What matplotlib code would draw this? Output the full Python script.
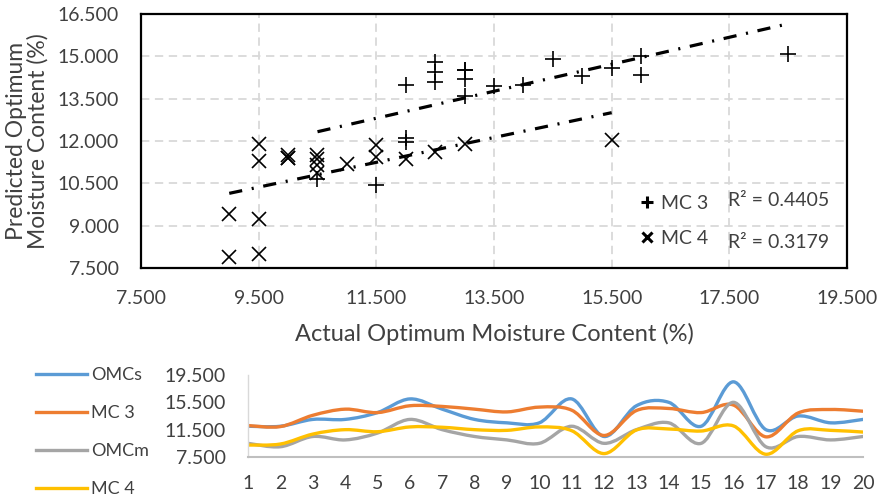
import numpy as np
import matplotlib
matplotlib.use("Agg")
import matplotlib.pyplot as plt
from matplotlib.path import Path
from matplotlib.patches import PathPatch
from matplotlib.lines import Line2D

plt.rcParams['font.family'] = ['Lato', 'DejaVu Sans']
plt.rcParams['lines.scale_dashes'] = False

# ---------------- data ----------------
samples = list(range(1, 21))
omcs = [12.0, 12.0, 13.0, 13.0, 14.0, 16.0, 14.5, 13.0, 12.5, 12.5,
        16.0, 10.5, 15.0, 15.5, 12.0, 18.5, 11.5, 13.5, 12.5, 13.0]
mc3 = [12.1, 11.95, 13.6, 14.5, 14.0, 15.0, 14.9, 14.5, 14.1, 14.8,
       14.35, 10.65, 14.3, 14.6, 14.0, 15.1, 10.45, 13.95, 14.45, 14.2]
omcm = [9.5, 9.0, 10.5, 10.0, 11.0, 13.0, 11.5, 10.5, 10.0, 9.5,
        12.0, 9.5, 11.5, 12.5, 9.5, 15.5, 9.0, 10.5, 10.0, 10.5]
mc4 = [9.25, 9.4, 10.85, 11.5, 11.2, 11.9, 11.85, 11.5, 11.4, 11.9,
       11.35, 8.0, 11.45, 11.6, 11.3, 12.05, 7.9, 11.35, 11.4, 11.15]
r2_mc3 = "R² = 0.4405"
r2_mc4 = "R² = 0.3179"
top_xticks = [7.5, 9.5, 11.5, 13.5, 15.5, 17.5, 19.5]
top_yticks = [7.5, 9.0, 10.5, 12.0, 13.5, 15.0, 16.5]
bot_yticks = [7.5, 11.5, 15.5, 19.5]

W, H = 882, 499
fig = plt.figure(figsize=(W / 100, H / 100), dpi=100)

def ax_rect(l, t, r, b):
    return [l / W, 1 - b / H, (r - l) / W, (b - t) / H]

FS = 14
TXT = '#404040'
# ---------------- top scatter ----------------
ax = fig.add_axes(ax_rect(141, 14, 847, 268))
ax.set_xlim(7.5, 19.5)
ax.set_ylim(7.5, 16.5)
ax.set_xticks(top_xticks)
ax.set_yticks(top_yticks)
ax.set_xticklabels([f"{v:.3f}" for v in top_xticks])
ax.set_yticklabels([f"{v:.3f}" for v in top_yticks])
ax.tick_params(length=0, labelsize=FS, colors=TXT)
ax.tick_params(axis='x', pad=16)
ax.tick_params(axis='y', pad=16)
ax.grid(True, color='#d9d9d9', linestyle=(0, (6, 4)), linewidth=1.3)
ax.set_axisbelow(True)
for s in ax.spines.values():
    s.set_color('black')
    s.set_linewidth(1.6)

ax.plot(omcs, mc3, linestyle='none', marker='+', markersize=11,
        markeredgewidth=1.2, color='black', zorder=3)
ax.plot(omcm, mc4, linestyle='none', marker='x', markersize=10,
        markeredgewidth=1.2, color='black', zorder=3)

for xs, ys in ((omcs, mc3), (omcm, mc4)):
    k, b = np.polyfit(xs, ys, 1)
    xl = np.array([min(xs), max(xs)])
    ln, = ax.plot(xl, k * xl + b, color='black', linewidth=2.3, zorder=4)
    ln.set_dashes([9.5, 7.0, 1.5, 7.0])

ax.set_xlabel("Actual Optimum Moisture Content (%)", fontsize=17,
              color=TXT, labelpad=11)
ax.set_ylabel("Predicted Optimum\nMoisture Content (%)", fontsize=16.5,
              color=TXT, labelpad=6, linespacing=1.05)

h3 = Line2D([], [], linestyle='none', marker='+', markersize=9,
            markeredgewidth=2.2, color='black')
h4 = Line2D([], [], linestyle='none', marker='x', markersize=7,
            markeredgewidth=2.2, color='black')
leg = ax.legend([h3, h4], ["MC 3", "MC 4"], loc='center left',
                bbox_to_anchor=((630 - 141) / 706, (268 - 221) / 254),
                frameon=False, fontsize=FS, handlelength=0.8,
                handletextpad=0.3, labelspacing=0.95, borderpad=0)
for t in leg.get_texts():
    t.set_color(TXT)
ax.text((728 - 141) / 706, (268 - 200) / 254, r2_mc3, transform=ax.transAxes,
        fontsize=FS, color=TXT, va='center', ha='left')
ax.text((728 - 141) / 706, (268 - 242) / 254, r2_mc4, transform=ax.transAxes,
        fontsize=FS, color=TXT, va='center', ha='left')

# ---------------- bottom line chart ----------------
bx = fig.add_axes(ax_rect(248, 375, 863, 457))
bx.set_xlim(1, 20)
bx.set_ylim(7.5, 19.5)
bx.set_xticks(samples)
bx.set_yticks(bot_yticks)
bx.set_yticklabels([f"{v:.3f}" for v in bot_yticks])
bx.tick_params(length=0, labelsize=FS, colors=TXT)
bx.tick_params(axis='x', pad=13)
bx.tick_params(axis='y', pad=16)
for side in ('top', 'right'):
    bx.spines[side].set_visible(False)
bx.spines['left'].set_color('#d9d9d9')
bx.spines['left'].set_linewidth(1.0)
bx.spines['bottom'].set_color('#bfbfbf')
bx.spines['bottom'].set_linewidth(1.5)


def smooth_path(xs, ys):
    pts = np.column_stack([xs, ys]).astype(float)
    n = len(pts)
    verts = [pts[0]]
    codes = [Path.MOVETO]
    for i in range(n - 1):
        p0 = pts[max(i - 1, 0)]
        p1 = pts[i]
        p2 = pts[i + 1]
        p3 = pts[min(i + 2, n - 1)]
        c1 = p1 + (p2 - p0) / 6.0
        c2 = p2 - (p3 - p1) / 6.0
        verts += [c1, c2, p2]
        codes += [Path.CURVE4] * 3
    return Path(verts, codes)


series = [("OMCs", omcs, '#5B9BD5'), ("MC 3", mc3, '#ED7D31'),
          ("OMCm", omcm, '#A5A5A5'), ("MC 4", mc4, '#FFC000')]
handles = []
for name, vals, col in series:
    patch = PathPatch(smooth_path(samples, vals), facecolor='none',
                      edgecolor=col, linewidth=2.4, capstyle='round',
                      joinstyle='round')
    bx.add_patch(patch)
    handles.append(Line2D([], [], color=col, linewidth=2.4))

lg = fig.legend(handles, [s[0] for s in series], loc='upper left',
                bbox_to_anchor=(27 / W, 1 - 358 / H), frameon=False,
                fontsize=13, handlelength=2.8, handletextpad=0.25,
                labelspacing=1.22, borderpad=0)
for t in lg.get_texts():
    t.set_color(TXT)

fig.savefig("out.png", dpi=100)
